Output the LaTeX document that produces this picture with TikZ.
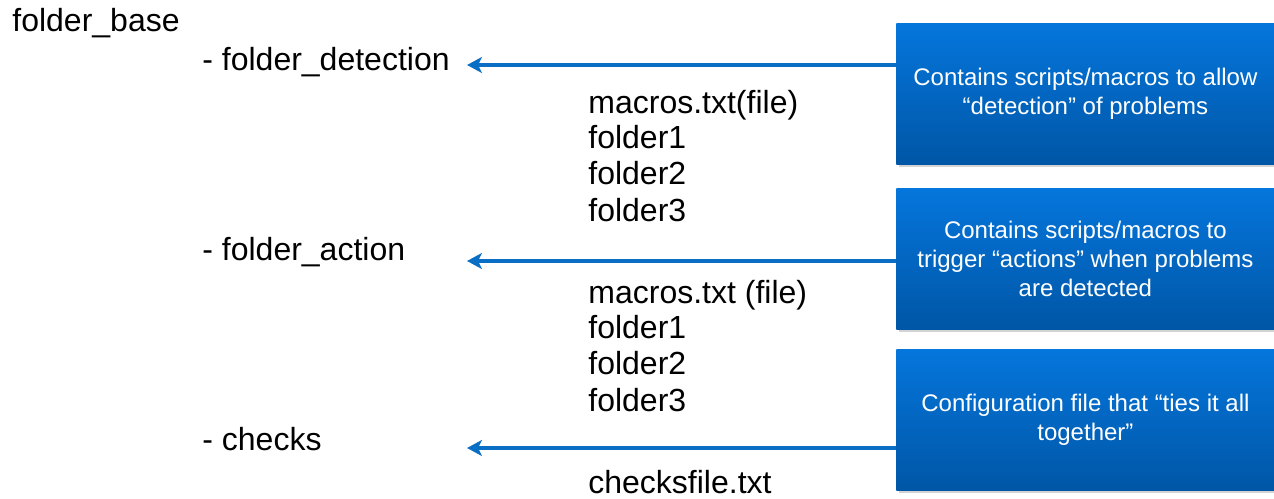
\documentclass[tikz,border=0pt]{standalone}
\usepackage{fontspec}
\setmainfont{Liberation Sans}
\usetikzlibrary{arrows.meta,shadows}
\definecolor{notetop}{HTML}{0576DC}
\definecolor{notebot}{HTML}{0056A6}
\definecolor{linkblue}{HTML}{0A6EC4}

\begin{document}
\begin{tikzpicture}[x=0.5pt,y=-0.5pt,
    entry/.style={anchor=base west,inner sep=0pt,font=\fontsize{16}{19}\selectfont},
    note/.style={anchor=north west,minimum width=189pt,minimum height=70.5pt,inner sep=0pt,
        top color=notetop,bottom color=notebot,text=white,align=center,
        font=\fontsize{12}{14.5}\selectfont,
        drop shadow={shadow xshift=1.2pt,shadow yshift=-1.2pt,opacity=0.35}},
    link/.style={draw=linkblue,line width=2.3pt,-{Stealth[length=7.5pt,width=8pt,inset=2pt]}}]
    \useasboundingbox (0,0) rectangle (1274,498);

    % folder tree
    \node (base) at (12,32) [entry] {folder\_base};
    \node (det) at (202,70) [entry] {- folder\_detection};
    \node (detmac) at (588,113) [entry] {macros.txt(file)};
    \node (detf1) at (588,148) [entry] {folder1};
    \node (detf2) at (588,184) [entry] {folder2};
    \node (detf3) at (588,221) [entry] {folder3};
    \node (act) at (202,260) [entry] {- folder\_action};
    \node (actmac) at (588,303) [entry] {macros.txt (file)};
    \node (actf1) at (588,338) [entry] {folder1};
    \node (actf2) at (588,374) [entry] {folder2};
    \node (actf3) at (588,411) [entry] {folder3};
    \node (chk) at (202,450) [entry] {- checks};
    \node (chkfile) at (588,493) [entry] {checksfile.txt};

    % explanation boxes
    \node (detnote) at (896,23) [note] {Contains scripts/macros to allow\\“detection” of problems};
    \node (actnote) at (896,188) [note] {Contains scripts/macros to\\trigger “actions” when problems\\are detected};
    \node (chknote) at (896,349) [note] {Configuration file that “ties it all\\together”};

    \coordinate (dettip) at (467,65);
    \coordinate (acttip) at (467,261);
    \coordinate (chktip) at (467,448);

    \draw[link] (detnote.west |- dettip) -- (dettip);
    \draw[link] (actnote.west |- acttip) -- (acttip);
    \draw[link] (chknote.west |- chktip) -- (chktip);
\end{tikzpicture}
\end{document}
